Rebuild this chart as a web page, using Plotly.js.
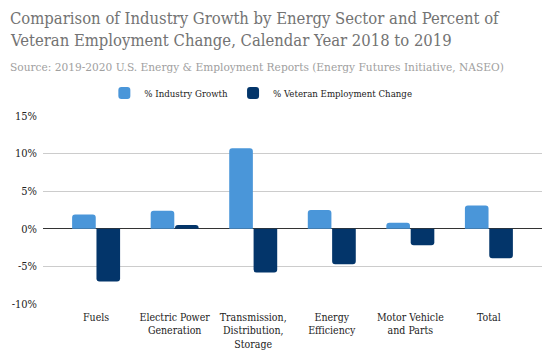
<!DOCTYPE html>
<html>
<head>
<meta charset="utf-8">
<script src="https://cdn.plot.ly/plotly-3.0.1.min.js"></script>
<style>html,body{margin:0;padding:0;background:#fff;}#chart{width:555px;height:362px;}</style>
</head>
<body>
<div id="chart"></div>
<script>
const categories = ["Fuels", "Electric Power<br>Generation", "Transmission,<br>Distribution,<br>Storage", "Energy<br>Efficiency", "Motor Vehicle<br>and Parts", "Total"];
const industryGrowth = [1.9, 2.4, 10.7, 2.5, 0.8, 3.1];
const veteranChange = [-7.0, 0.5, -5.8, -4.7, -2.2, -3.9];
const seriesNames = ["% Industry Growth", "% Veteran Employment Change"];
const tickVals = [-10, -5, 0, 5, 10, 15];
const tickText = ["-10%", "-5%", "0%", "5%", "10%", "15%"];
const titleLines = ["Comparison of Industry Growth by Energy Sector and Percent of", "Veteran Employment Change, Calendar Year 2018 to 2019"];
const subtitle = "Source: 2019-2020 U.S. Energy &amp; Employment Reports (Energy Futures Initiative, NASEO)";

const serif = "DejaVu Serif Condensed";
const traces = [
  {type: "bar", name: seriesNames[0], x: categories, y: industryGrowth, marker: {color: "#4a96d9"}, hoverinfo: "none"},
  {type: "bar", name: seriesNames[1], x: categories, y: veteranChange, marker: {color: "#03356a"}, hoverinfo: "none"}
];
const plotW = 555 - 43 - 13, plotH = 362 - 116 - 58;
function px(x) { return (x - 43) / plotW; }
function py(y) { return (362 - 58 - y) / plotH; }
const layout = {
  width: 555, height: 362,
  margin: {l: 43, r: 13, t: 116, b: 58, autoexpand: false},
  paper_bgcolor: "#fff", plot_bgcolor: "#fff",
  font: {family: serif, color: "#222", size: 11},
  barmode: "group", bargap: 0.38, bargroupgap: 0.03, barcornerradius: 3,
  showlegend: true,
  legend: {orientation: "h", x: 0.47, xanchor: "center", xref: "container", y: 1 - 93/362, yref: "container", yanchor: "middle", font: {family: serif, size: 9.6, color: "#222"}, traceorder: "normal"},
  xaxis: {range: [-0.676, 5.676], showgrid: false, zeroline: false, showline: false, ticks: "", tickangle: 0, ticklabelstandoff: 5, tickfont: {family: serif, size: 10.5, color: "#222"}, fixedrange: true, automargin: false},
  yaxis: {range: [-10, 15], tickvals: tickVals, ticktext: tickText, showgrid: true, gridcolor: "#cccccc", gridwidth: 1, zeroline: true, zerolinecolor: "#333", zerolinewidth: 1, showline: false, ticks: "", ticklabelstandoff: 5, tickfont: {family: serif, size: 11, color: "#222"}, fixedrange: true, automargin: false},
  annotations: [
    {text: titleLines[0], xref: "paper", yref: "paper", x: px(8), y: py(18), xanchor: "left", yanchor: "middle", showarrow: false, align: "left", font: {family: serif, size: 16.5, color: "#737373"}},
    {text: titleLines[1], xref: "paper", yref: "paper", x: px(8), y: py(41), xanchor: "left", yanchor: "middle", showarrow: false, align: "left", font: {family: serif, size: 16.5, color: "#737373"}},
    {text: subtitle, xref: "paper", yref: "paper", x: px(8), y: py(67), xanchor: "left", yanchor: "middle", showarrow: false, align: "left", font: {family: serif, size: 11.8, color: "#a0a0a0"}}
  ]
};
Plotly.newPlot("chart", traces, layout, {displayModeBar: false, staticPlot: true});
</script>
</body>
</html>
